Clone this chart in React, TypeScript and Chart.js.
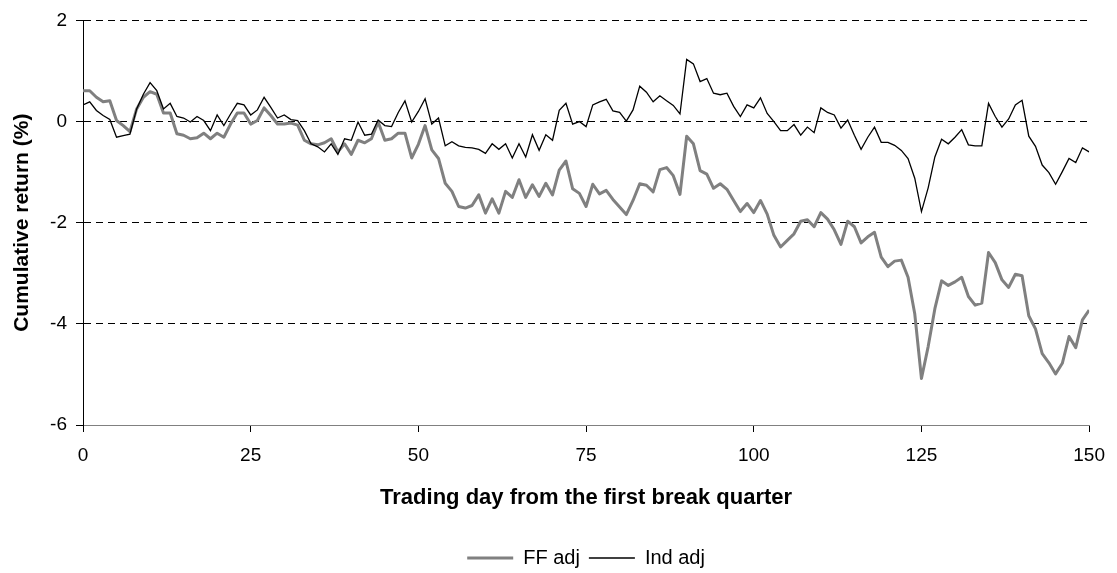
import React, { useEffect, useRef } from 'react';
import { Chart, registerables } from 'chart.js';

Chart.register(...registerables);

// Cumulative return (%) by trading day
const ffAdj = [
  0.61, 0.61, 0.48, 0.39, 0.41, 0.02, -0.08, -0.20, 0.25, 0.48,
  0.59, 0.54, 0.17, 0.17, -0.24, -0.27, -0.34, -0.32, -0.23, -0.34,
  -0.23, -0.31, -0.05, 0.17, 0.17, -0.05, 0.02, 0.27, 0.12, -0.05,
  -0.05, -0.03, -0.07, -0.37, -0.44, -0.46, -0.42, -0.34, -0.60, -0.44,
  -0.65, -0.37, -0.42, -0.34, -0.01, -0.37, -0.34, -0.23, -0.23, -0.72,
  -0.45, -0.08, -0.56, -0.73, -1.22, -1.38, -1.68, -1.71, -1.66, -1.45,
  -1.81, -1.53, -1.81, -1.38, -1.50, -1.15, -1.50, -1.25, -1.48, -1.22,
  -1.45, -0.96, -0.78, -1.33, -1.42, -1.68, -1.24, -1.43, -1.36, -1.54,
  -1.69, -1.84, -1.56, -1.23, -1.26, -1.39, -0.95, -0.91, -1.07, -1.44,
  -0.29, -0.44, -0.97, -1.04, -1.32, -1.23, -1.34, -1.56, -1.78, -1.62,
  -1.80, -1.56, -1.83, -2.25, -2.48, -2.35, -2.22, -1.97, -1.94, -2.08,
  -1.80, -1.93, -2.14, -2.43, -1.97, -2.08, -2.40, -2.28, -2.19, -2.68,
  -2.87, -2.76, -2.74, -3.08, -3.80, -5.08, -4.45, -3.70, -3.15, -3.24,
  -3.17, -3.08, -3.46, -3.63, -3.59, -2.59, -2.79, -3.13, -3.28, -3.02,
  -3.05, -3.84, -4.10, -4.59, -4.77, -4.99, -4.78, -4.25, -4.47, -3.92,
  -3.73,
];

const indAdj = [
  0.33, 0.39, 0.22, 0.12, 0.04, -0.31, -0.28, -0.25, 0.25, 0.54,
  0.77, 0.61, 0.25, 0.36, 0.10, 0.07, -0.01, 0.10, 0.02, -0.18,
  0.13, -0.08, 0.15, 0.36, 0.33, 0.13, 0.23, 0.48, 0.28, 0.07,
  0.13, 0.04, 0.02, -0.18, -0.44, -0.50, -0.60, -0.44, -0.65, -0.34,
  -0.37, -0.01, -0.27, -0.25, 0.03, -0.08, -0.10, 0.18, 0.41, -0.01,
  0.20, 0.45, -0.05, 0.07, -0.48, -0.40, -0.48, -0.51, -0.52, -0.55,
  -0.63, -0.44, -0.55, -0.44, -0.72, -0.44, -0.70, -0.26, -0.57, -0.26,
  -0.37, 0.22, 0.36, -0.05, 0.00, -0.10, 0.33, 0.39, 0.44, 0.21,
  0.18, 0.01, 0.23, 0.70, 0.58, 0.39, 0.51, 0.41, 0.32, 0.15,
  1.23, 1.14, 0.79, 0.85, 0.56, 0.53, 0.56, 0.30, 0.10, 0.33,
  0.27, 0.47, 0.16, 0.00, -0.18, -0.18, -0.06, -0.27, -0.11, -0.22,
  0.27, 0.18, 0.13, -0.13, 0.03, -0.27, -0.55, -0.31, -0.11, -0.41,
  -0.41, -0.47, -0.57, -0.73, -1.12, -1.78, -1.31, -0.70, -0.35, -0.44,
  -0.31, -0.16, -0.46, -0.48, -0.48, 0.36, 0.10, -0.11, 0.05, 0.33,
  0.42, -0.29, -0.49, -0.86, -1.01, -1.24, -0.99, -0.73, -0.81, -0.52,
  -0.60,
];

// Trading day index of each value
const days = ffAdj.map((_, i) => i);

const xTicks = [0, 25, 50, 75, 100, 125, 150];
const yTicks = [-6, -4, -2, 0, 2];

const seriesNames = ['FF adj', 'Ind adj'];
const xTitle = 'Trading day from the first break quarter';
const yTitle = 'Cumulative return (%)';

const FONT = "'Liberation Sans', Arial, Helvetica, sans-serif";

export default function App() {
  const ref = useRef<HTMLCanvasElement>(null);

  useEffect(() => {
    if (!ref.current) return;
    Chart.defaults.font.family = FONT;
    Chart.defaults.color = '#000';

    const chart = new Chart(ref.current, {
      type: 'line',
      data: {
        datasets: [
          {
            label: seriesNames[0],
            data: days.map((d, i) => ({ x: d, y: ffAdj[i] })),
            borderColor: '#808080',
            backgroundColor: '#808080',
            borderWidth: 3,
            pointRadius: 0,
            tension: 0,
            borderJoinStyle: 'round',
            order: 1,
          },
          {
            label: seriesNames[1],
            data: days.map((d, i) => ({ x: d, y: indAdj[i] })),
            borderColor: '#000000',
            backgroundColor: '#000000',
            borderWidth: 1.3,
            pointRadius: 0,
            tension: 0,
            order: 0,
          },
        ],
      },
      options: {
        responsive: false,
        animation: false,
        devicePixelRatio: 1,
        events: [],
        layout: { padding: { left: 0, top: 16, right: 24, bottom: 0 } },
        plugins: {
          legend: {
            display: true,
            position: 'bottom',
            fullSize: false,
            maxHeight: 34,
            labels: {
              usePointStyle: true,
              pointStyle: 'line',
              pointStyleWidth: 46,
              padding: 9,
              color: '#000',
              font: { size: 20, family: FONT },
              sort: (a: any, b: any) => a.datasetIndex - b.datasetIndex,
            },
          },
          tooltip: { enabled: false },
        },
        scales: {
          x: {
            type: 'linear',
            min: 0,
            max: 150,
            afterBuildTicks: (s: any) => {
              s.ticks = xTicks.map((v) => ({ value: v }));
            },
            ticks: {
              font: { size: 19, family: FONT },
              color: '#000',
              padding: 12,
              maxRotation: 0,
              autoSkip: false,
            },
            grid: {
              drawOnChartArea: false,
              drawTicks: true,
              tickLength: 7,
              tickColor: '#000',
            },
            border: { color: '#808080', width: 1 },
            title: {
              display: true,
              text: xTitle,
              color: '#000',
              font: { size: 22, weight: 'bold', family: FONT },
              padding: { top: 0, bottom: 28 },
            },
            afterFit: (s: any) => {
              s.height = 114;
            },
          },
          y: {
            type: 'linear',
            min: -6,
            max: 2,
            afterBuildTicks: (s: any) => {
              s.ticks = yTicks.map((v) => ({ value: v }));
            },
            ticks: {
              font: { size: 19, family: FONT },
              color: '#000',
              padding: 9,
            },
            grid: {
              color: (c: any) => (c.tick && c.tick.value === -6 ? 'rgba(0,0,0,0)' : '#000'),
              lineWidth: 1,
              tickLength: 7,
              tickColor: '#000',
              tickBorderDash: [],
            },
            border: { color: '#000', width: 1, dash: [7, 5] },
            title: {
              display: true,
              text: yTitle,
              color: '#000',
              font: { size: 21, weight: 'bold', family: FONT },
              padding: { top: 10, bottom: 0 },
            },
            afterFit: (s: any) => {
              s.width = 83;
            },
          },
        },
      },
    });

    return () => chart.destroy();
  }, []);

  return (
    <div style={{ position: 'absolute', left: 0, top: 0, width: 1117, height: 573, background: '#fff' }}>
      <canvas ref={ref} width={1117} height={573} style={{ display: 'block' }} />
    </div>
  );
}
